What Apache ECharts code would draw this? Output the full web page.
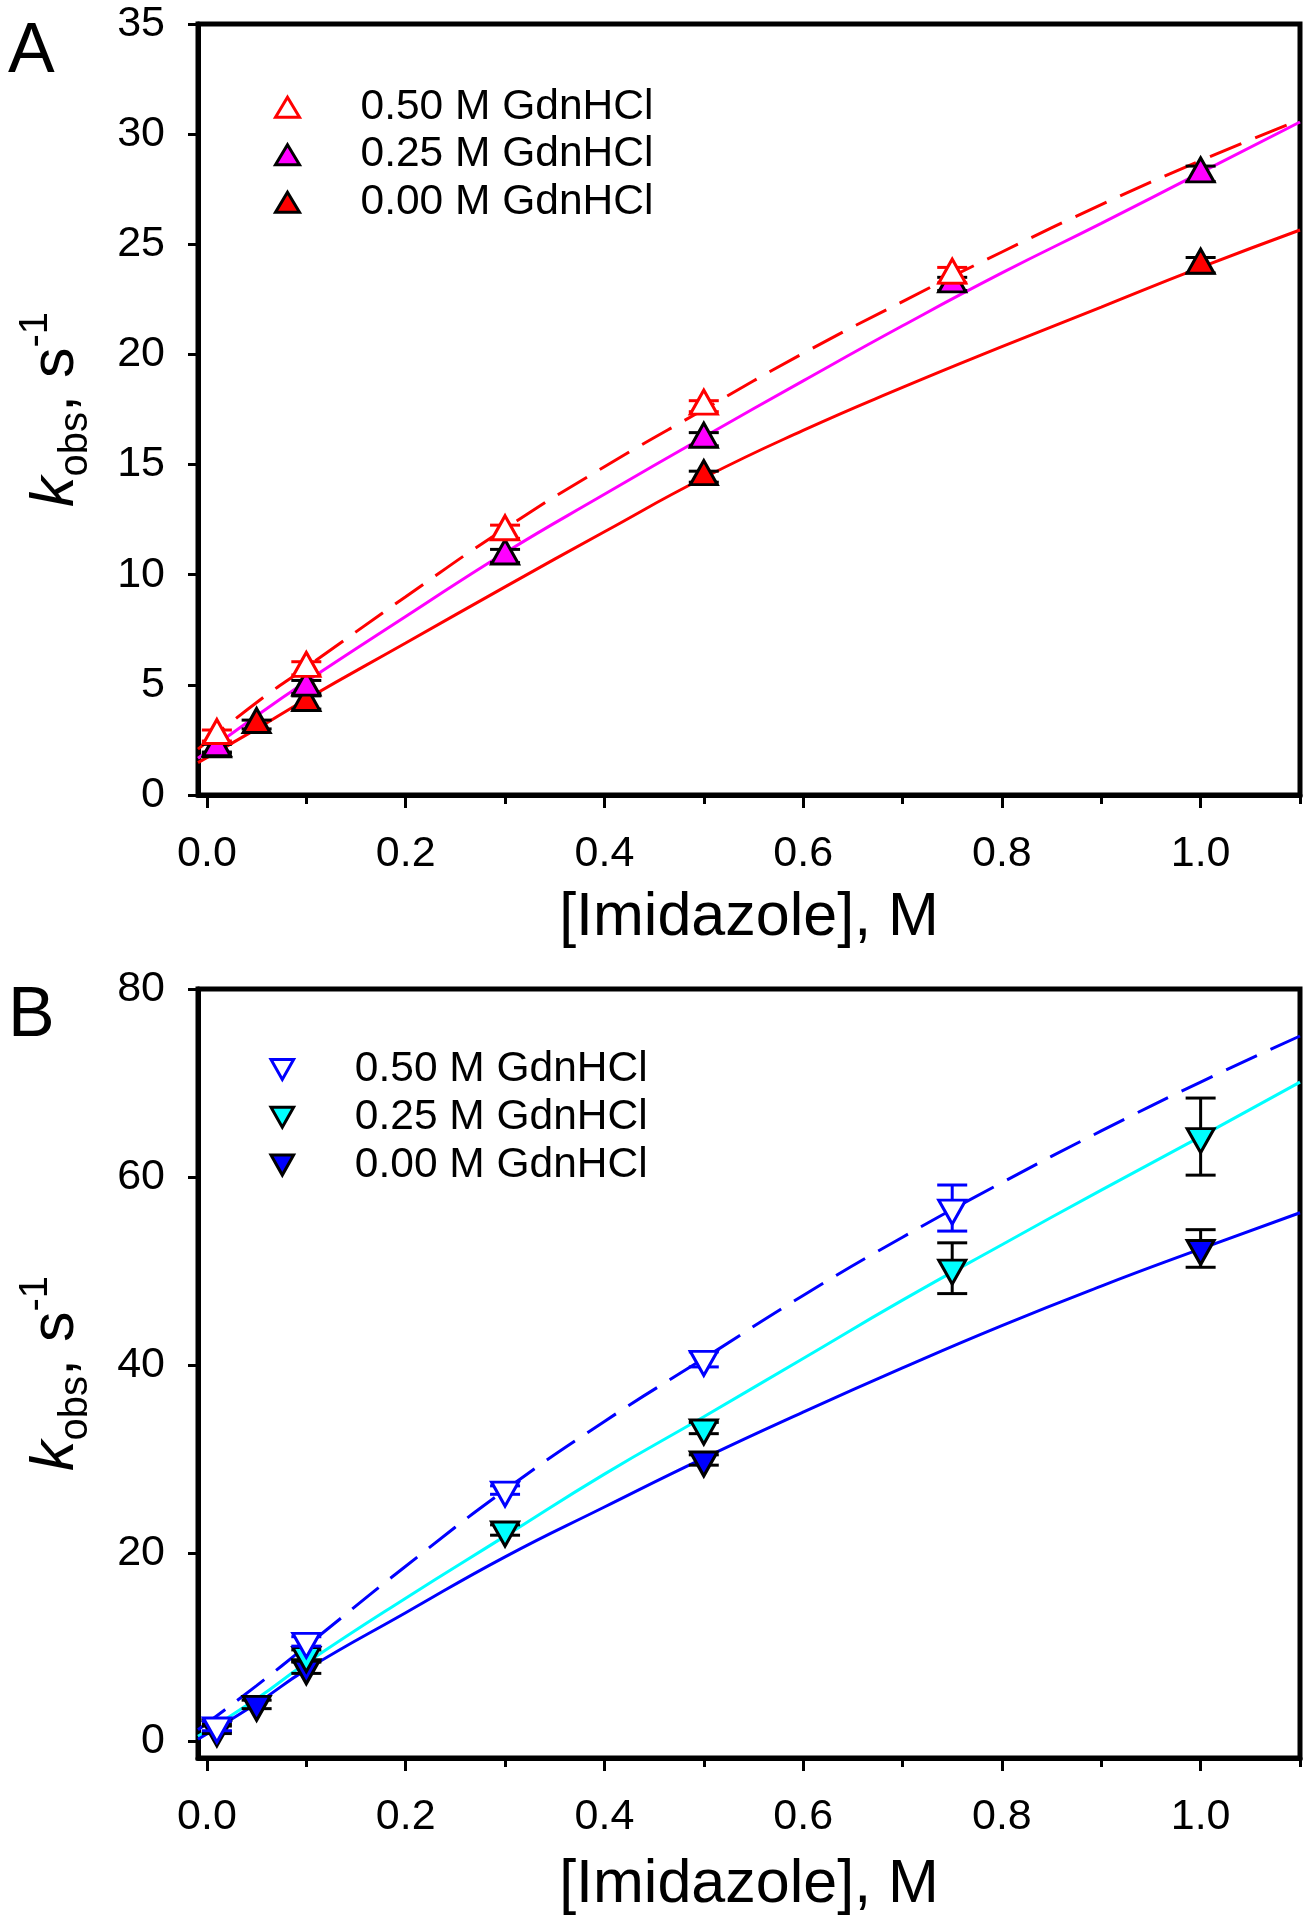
<!DOCTYPE html>
<html>
<head>
<meta charset="utf-8">
<script src="https://cdn.jsdelivr.net/npm/echarts@6/dist/echarts.min.js"></script>
<style>
html,body{margin:0;padding:0;background:#fff;}
#chart{width:1309px;height:1920px;}
</style>
</head>
<body>
<div id="chart"></div>
<script>
// ---------- DATA ----------
const xMajor = [0, 0.2, 0.4, 0.6, 0.8, 1.0];
const xMinor = [0.1, 0.3, 0.5, 0.7, 0.9, 1.1];
const yTicksB = [0, 20, 40, 60, 80];
const seriesNames = ['0.50 M GdnHCl', '0.25 M GdnHCl', '0.00 M GdnHCl'];

// Panel A : measured points (x, k_obs, error)
const xA_050 = [0.01, 0.1, 0.3, 0.5, 0.75];
const yA_050 = [2.7, 5.75, 11.95, 17.65, 23.6];
const eA_050 = [0.25, 0.3, 0.3, 0.25, 0.35];
const xA_025 = [0.01, 0.1, 0.3, 0.5, 0.75, 1.0];
const yA_025 = [2.15, 4.9, 10.85, 16.15, 23.2, 28.2];
const eA_025 = [0.2, 0.3, 0.3, 0.3, 0.3, 0.35];
const xA_000 = [0.01, 0.05, 0.1, 0.5, 1.0];
const yA_000 = [2.1, 3.2, 4.2, 14.45, 24.05];
const eA_000 = [0.2, 0.2, 0.3, 0.25, 0.35];

// Fitted curves
const fitX = [-0.009, 0.05, 0.1, 0.2, 0.3, 0.4, 0.5, 0.6, 0.7, 0.8, 0.9, 1.0, 1.1];
const fitA_050 = [2.08, 4.2, 5.8, 9.0, 12.1, 14.9, 17.5, 20.05, 22.4, 24.65, 26.8, 28.8, 30.65];
const fitA_025 = [1.67, 3.6, 5.15, 8.1, 11.0, 13.65, 16.25, 18.8, 21.3, 23.7, 25.95, 28.25, 30.55];
const fitA_000 = [1.47, 3.0, 4.35, 6.9, 9.45, 11.95, 14.4, 16.55, 18.5, 20.35, 22.15, 23.95, 25.65];

// Panel B : measured points
const xB_050 = [0.01, 0.1, 0.3, 0.5, 0.75];
const yB_050 = [1.6, 10.6, 26.7, 40.6, 56.7];
const eB_050 = [0.5, 0.5, 0.45, 0.8, 2.45];
const xB_025 = [0.01, 0.1, 0.3, 0.5, 0.75, 1.0];
const yB_025 = [1.4, 9.1, 22.45, 33.3, 50.3, 64.3];
const eB_025 = [0.4, 0.6, 0.55, 0.6, 2.7, 4.1];
const xB_000 = [0.01, 0.05, 0.1, 0.5, 1.0];
const yB_000 = [1.2, 3.9, 7.8, 29.9, 52.4];
const eB_000 = [0.4, 0.45, 0.6, 0.55, 2.0];

const fitB_050 = [1.2, 5.9, 10.1, 18.6, 26.7, 34.0, 40.7, 47.4, 53.6, 59.4, 64.9, 70.1, 75.0];
const fitB_025 = [0.5, 4.5, 8.3, 15.2, 21.8, 28.4, 34.5, 40.7, 46.9, 52.8, 58.6, 64.3, 70.1];
const fitB_000 = [0.2, 4.0, 7.6, 13.65, 19.6, 24.9, 30.1, 35.0, 39.7, 44.2, 48.4, 52.35, 56.2];

// ---------- BUILD ----------
const FONT = '"Liberation Sans", Arial, Helvetica, sans-serif';
const zip2 = (a, b) => a.map((v, i) => [v, b[i]]);
const zip3 = (a, b, c) => a.map((v, i) => [v, b[i], c[i]]);

const UP = 'triangle';
const DOWN = 'path://M0,0L26,0L13,23Z';
const MS = [27, 24];

function errBar(color) {
  return function (params, api) {
    const x = api.value(0), y = api.value(1), e = api.value(2);
    const t = api.coord([x, y + e]);
    const b = api.coord([x, y - e]);
    const hw = 15;
    const st = { stroke: color, lineWidth: 3 };
    return {
      type: 'group',
      children: [
        { type: 'line', shape: { x1: t[0], y1: t[1], x2: b[0], y2: b[1] }, style: st },
        { type: 'line', shape: { x1: t[0] - hw, y1: t[1], x2: t[0] + hw, y2: t[1] }, style: st },
        { type: 'line', shape: { x1: b[0] - hw, y1: b[1], x2: b[0] + hw, y2: b[1] }, style: st }
      ]
    };
  };
}

const panels = [
  {
    tag: 'A', symbol: UP, offset: [0, -4],
    pts: [[xA_050, yA_050, eA_050], [xA_025, yA_025, eA_025], [xA_000, yA_000, eA_000]],
    fits: [fitA_050, fitA_025, fitA_000],
    fill: ['#ffffff', '#ff00ff', '#ff0000'],
    edge: ['#ff0000', '#000000', '#000000'],
    lineColor: ['#ff0000', '#ff00ff', '#ff0000']
  },
  {
    tag: 'B', symbol: DOWN, offset: [0, 4],
    pts: [[xB_050, yB_050, eB_050], [xB_025, yB_025, eB_025], [xB_000, yB_000, eB_000]],
    fits: [fitB_050, fitB_025, fitB_000],
    fill: ['#ffffff', '#00ffff', '#0000ff'],
    edge: ['#0000ff', '#000000', '#000000'],
    lineColor: ['#0000ff', '#00ffff', '#0000ff']
  }
];

const grids = [
  { left: 198, top: 24, width: 1102, height: 771, show: true, borderColor: '#000', borderWidth: 5 },
  { left: 198, top: 989, width: 1102, height: 769, show: true, borderColor: '#000', borderWidth: 5 }
];

const xAxes = [], yAxes = [], series = [], legends = [];
const yTitle = '{k|k}{s|obs}{m|, s}{p|-1}';
const yTitleRich = {
  k: { fontSize: 61, fontStyle: 'italic', lineHeight: 80, verticalAlign: 'middle', fontFamily: FONT, color: '#000' },
  s: { fontSize: 40, lineHeight: 40, verticalAlign: 'bottom', fontFamily: FONT, color: '#000' },
  m: { fontSize: 61, lineHeight: 80, verticalAlign: 'middle', fontFamily: FONT, color: '#000' },
  p: { fontSize: 40, lineHeight: 40, verticalAlign: 'top', fontFamily: FONT, color: '#000' }
};

panels.forEach((P, g) => {
  xAxes.push({
    gridIndex: g, type: 'value', min: -0.009, max: 1.1, position: 'bottom',
    axisLine: { onZero: false, lineStyle: { color: '#000', width: 5 } },
    axisTick: { customValues: xMajor, length: 13, lineStyle: { color: '#000', width: 3 } },
    axisLabel: { customValues: xMajor, formatter: v => v.toFixed(1), fontSize: 43, color: '#000', fontFamily: FONT, margin: 38 },
    splitLine: { show: false },
    name: '[Imidazole], M', nameLocation: 'middle', nameGap: g === 0 ? 90 : 94,
    nameTextStyle: { fontSize: 61, lineHeight: 66, color: '#000', fontFamily: FONT }
  });
  xAxes.push({
    gridIndex: g, type: 'value', min: -0.009, max: 1.1, position: 'bottom',
    axisLine: { show: false, onZero: false },
    axisTick: { customValues: xMinor, length: 9, lineStyle: { color: '#000', width: 3 } },
    axisLabel: { show: false },
    splitLine: { show: false }
  });
  const yBase = {
    gridIndex: g, type: 'value',
    axisLine: { show: true, onZero: false, lineStyle: { color: '#000', width: 5 } },
    axisTick: { show: true, length: 10, lineStyle: { color: '#000', width: 3 } },
    axisLabel: { fontSize: 43, color: '#000', fontFamily: FONT, margin: 33 },
    splitLine: { show: false },
    name: yTitle, nameLocation: 'middle', nameGap: 102, nameRotate: 90,
    nameTextStyle: { rich: yTitleRich }
  };
  if (g === 0) {
    Object.assign(yBase, { min: 0, max: 35, interval: 5 });
  } else {
    Object.assign(yBase, { min: -1.8, max: 80 });
    yBase.axisTick = Object.assign({}, yBase.axisTick, { customValues: yTicksB });
    yBase.axisLabel = Object.assign({}, yBase.axisLabel, { customValues: yTicksB });
  }
  yAxes.push(yBase);

  const xi = g * 2;
  // fitted curves
  P.fits.forEach((f, i) => {
    series.push({
      type: 'line', xAxisIndex: xi, yAxisIndex: g, data: zip2(fitX, f),
      smooth: true, showSymbol: false, silent: true, z: 2,
      lineStyle: { color: P.lineColor[i], width: 3, type: i === 0 ? [34, 15] : 'solid' }
    });
  });
  // draw order: 0.00 M first, 0.50 M last (on top)
  [2, 1, 0].forEach((i, k) => {
    const [xs, ys, es] = P.pts[i];
    series.push({
      type: 'custom', xAxisIndex: xi, yAxisIndex: g, silent: true, z: 3 + k * 2,
      renderItem: errBar(i === 0 ? P.edge[0] : '#000'),
      encode: { x: 0, y: 1 },
      data: zip3(xs, ys, es)
    });
    series.push({
      type: 'scatter', name: P.tag + ':' + seriesNames[i], xAxisIndex: xi, yAxisIndex: g,
      z: 4 + k * 2, symbol: P.symbol, symbolSize: MS, symbolOffset: P.offset,
      itemStyle: { color: P.fill[i], borderColor: P.edge[i], borderWidth: 3, opacity: 1 },
      data: zip2(xs, ys)
    });
  });

  legends.push({
    orient: 'vertical',
    padding: 0,
    left: g === 0 ? 274 : 269.5,
    top: g === 0 ? 85.7 : 1048,
    itemWidth: 24, itemHeight: 20, itemGap: g === 0 ? 4.5 : 4.8,
    selectedMode: false,
    formatter: n => '{g|}' + n.slice(2),
    textStyle: {
      fontSize: 42.5, lineHeight: 42, color: '#000', fontFamily: FONT,
      rich: { g: { width: g === 0 ? 56 : 55.5 } }
    },
    data: [0, 1, 2].map(i => ({
      name: P.tag + ':' + seriesNames[i],
      icon: g === 0 ? 'triangle' : DOWN,
      itemStyle: { color: P.fill[i], borderColor: P.edge[i], borderWidth: 3 }
    }))
  });
});

const option = {
  backgroundColor: '#ffffff',
  animation: false,
  textStyle: { fontFamily: FONT },
  grid: grids,
  xAxis: xAxes,
  yAxis: yAxes,
  legend: legends,
  graphic: [
    { type: 'text', left: 8, top: 18, style: { text: 'A', fontSize: 70, fill: '#000', fontFamily: FONT } },
    { type: 'text', left: 8, top: 982, style: { text: 'B', fontSize: 70, fill: '#000', fontFamily: FONT } }
  ],
  series: series
};

const chart = echarts.init(document.getElementById('chart'), null, { renderer: 'canvas' });
chart.setOption(option);
</script>
</body>
</html>
